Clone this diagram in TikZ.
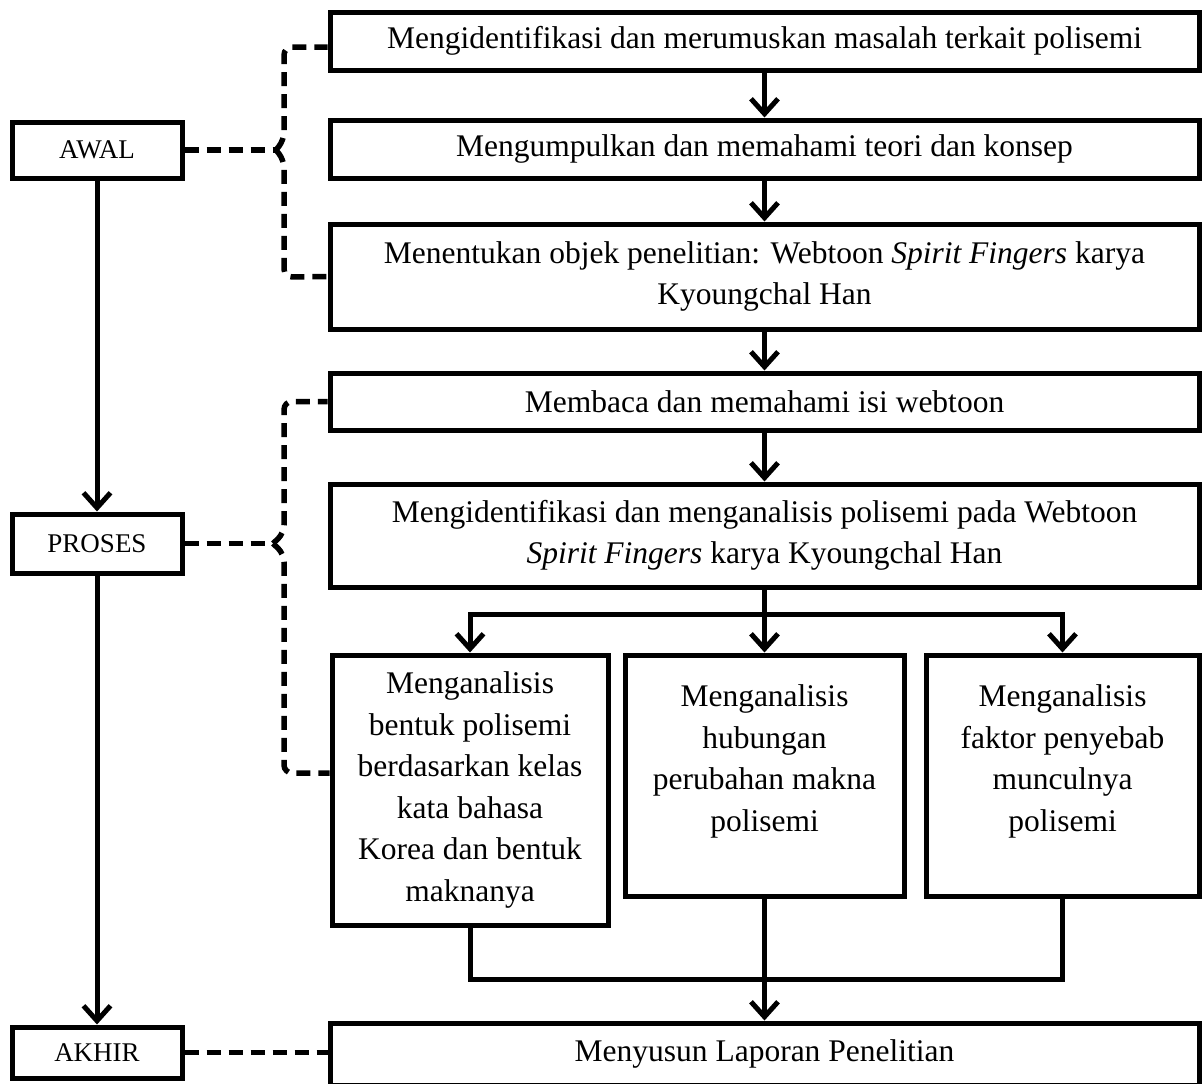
\documentclass[tikz,border=0pt]{standalone}
\usepackage{fontspec}
\setmainfont{Liberation Serif}
\usetikzlibrary{arrows.meta}
\begin{document}
\begin{tikzpicture}[x=1pt,y=-1pt,
  box/.style={draw, line width=5pt, rectangle, inner sep=0pt, align=center,
    font=\fontsize{31.5}{41.5}\selectfont},
  txt/.style={align=center, inner sep=0pt, font=\fontsize{31.5}{41.5}\selectfont},
  sbox/.style={draw, line width=5pt, rectangle, inner sep=0pt, minimum width=170pt,
    font=\fontsize{27}{30}\selectfont},
  con/.style={line width=5pt},
  arr/.style={line width=5pt, -{Straight Barb[length=15pt,width=27pt]}},
  dsh/.style={line width=5.5pt, dash pattern=on 14pt off 8pt, rounded corners=8pt}]
\useasboundingbox (0,0) rectangle (1203,1084);

% main column
\node[box, minimum width=869pt, minimum height=58pt] (b1) at (764.5,41)
  {Mengidentifikasi dan merumuskan masalah terkait polisemi};
\node[box, minimum width=869pt, minimum height=58pt] (b2) at (764.5,149)
  {Mengumpulkan dan memahami teori dan konsep};
\node[box, minimum width=869pt, minimum height=105pt] (b3) at (764.5,276.5)
  {Menentukan objek penelitian: Webtoon \textit{Spirit Fingers} karya\\Kyoungchal Han};
\node[box, minimum width=869pt, minimum height=57pt] (b4) at (764.5,401.5)
  {Membaca dan memahami isi webtoon};
\node[box, minimum width=869pt, minimum height=103pt] (b5) at (764.5,535.5)
  {Mengidentifikasi dan menganalisis polisemi pada Webtoon\\\textit{Spirit Fingers} karya Kyoungchal Han};

\node[box, minimum width=276pt, minimum height=270pt] (c1) at (470,790)
  {Menganalisis\\bentuk polisemi\\berdasarkan kelas\\kata bahasa\\Korea dan bentuk\\maknanya};
\node[box, minimum width=279pt, minimum height=241pt] (c2) at (764.5,775.5) {};
\node[txt] (c2t) at ([yshift=14pt]c2.center)
  {Menganalisis\\hubungan\\perubahan makna\\polisemi};
\node[box, minimum width=273pt, minimum height=241pt] (c3) at (1062.5,775.5) {};
\node[txt] (c3t) at ([yshift=14pt]c3.center)
  {Menganalisis\\faktor penyebab\\munculnya\\polisemi};

\node[box, minimum width=869pt, minimum height=62pt] (b6) at (764.5,1054)
  {Menyusun Laporan Penelitian};

% stage column
\node[sbox, minimum height=56pt] (awal) at (97,150) {AWAL};
\node[sbox, minimum height=59pt] (proses) at (97,543.5) {PROSES};
\node[sbox, minimum height=51pt] (akhir) at (97,1052.5) {AKHIR};

% main arrows
\draw[arr] (b1) -- (b2);
\draw[arr] (b2) -- (b3);
\draw[arr] (b3) -- (b4);
\draw[arr] (b4) -- (b5);

\coordinate (br) at ([yshift=-25pt]b5.south);
\draw[con] (b5.south) -- (br);
\draw[arr] (br) -| (c1.north);
\draw[arr] (br) -| (c3.north);
\draw[arr] (br) -- (c2.north);

\coordinate (mg) at ([yshift=-52pt]c1.south);
\draw[con] (c1.south) |- (mg -| c3.south) -- (c3.south);
\draw[arr] (c2.south) -- (b6.north);

% stage arrows
\draw[arr] (awal) -- (proses);
\draw[arr] (proses) -- (akhir);

% dashed brackets
\coordinate (ap) at (276,150);
\draw[dsh] (awal.east) -- (ap);
\draw[dsh] (ap) -- (284,140) -- (284,47) -- ([yshift=-6pt]b1.west);
\draw[dsh] (ap) -- (284,160) -- (284,277) -- (b3.west);

\coordinate (pp) at (273,543.5);
\draw[dsh] (proses.east) -- (pp);
\draw[dsh] (pp) -- (284,533) -- (284,401.5) -- (b4.west);
\draw[dsh] (pp) -- (284,554) -- (284,773) -- ([yshift=17pt]c1.west);

\draw[dsh] (akhir.east) -- (akhir.east -| b6.west);
\end{tikzpicture}
\end{document}
